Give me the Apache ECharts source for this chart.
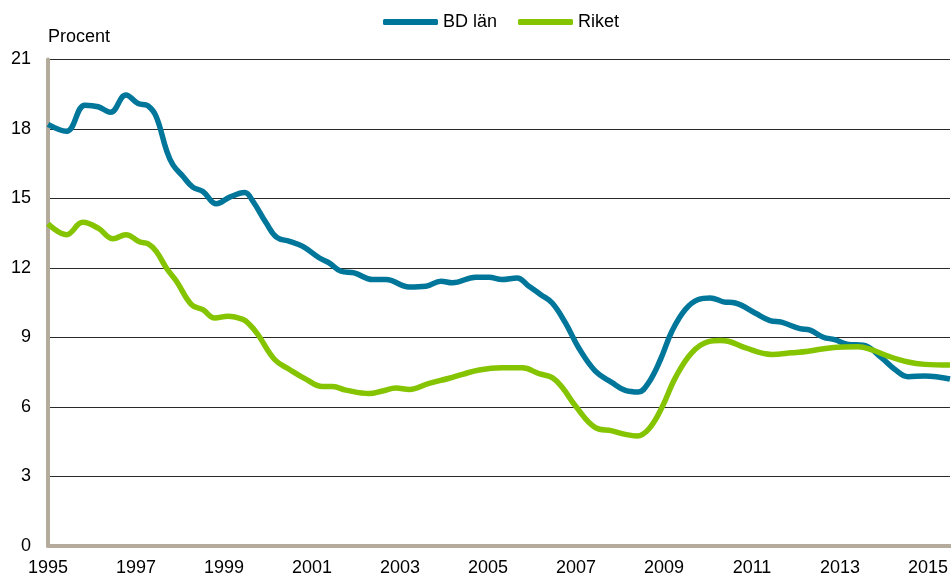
<!DOCTYPE html>
<html>
<head>
<meta charset="utf-8">
<title>BD län / Riket</title>
<script src="https://cdn.jsdelivr.net/npm/echarts@6/dist/echarts.min.js"></script>
<style>
  html, body { margin: 0; padding: 0; background: #fff; }
  #chart { width: 951px; height: 577px; }
</style>
</head>
<body>
<div id="chart"></div>
<script>
// år räknat från 1995 (0 = 1995)
const startYear = 1995;
const bdTime = [0, 0.42, 0.84, 1.14, 1.42, 1.77, 2.05, 2.27, 2.46, 2.69, 2.84, 3.07, 3.29, 3.52, 3.83,
  4.13, 4.47, 4.66, 4.96, 5.2, 5.49, 5.79, 6.17, 6.39, 6.66, 6.96, 7.38, 7.68, 8.21, 8.59, 8.93,
  9.19, 9.72, 10.02, 10.32, 10.66, 10.93, 11.2, 11.46, 11.76, 12.06, 12.44, 12.82, 13.12, 13.42,
  13.65, 13.92, 14.18, 14.48, 14.78, 15.05, 15.35, 15.62, 16.07, 16.41, 16.67, 17.09, 17.32,
  17.62, 17.88, 18.19, 18.53, 18.94, 19.25, 19.55, 19.93, 20.5];
const bdValues = [18.2, 17.9, 19.03, 18.96, 18.72, 19.47, 19.1, 19.0, 18.53, 17.1, 16.45, 15.95, 15.49, 15.3, 14.77,
  15.06, 15.26, 14.87, 13.94, 13.32, 13.15, 12.93, 12.43, 12.22, 11.86, 11.79, 11.5, 11.5, 11.18, 11.21, 11.43,
  11.36, 11.6, 11.6, 11.5, 11.57, 11.21, 10.85, 10.49, 9.63, 8.56, 7.55, 7.05, 6.72, 6.65,
  7.05, 8.05, 9.27, 10.2, 10.64, 10.71, 10.54, 10.49, 10.06, 9.73, 9.66, 9.38, 9.32,
  9.01, 8.91, 8.7, 8.67, 8.13, 7.62, 7.31, 7.34, 7.21];

const riketTime = [0, 0.42, 0.79, 1.14, 1.48, 1.77, 2.09, 2.27, 2.46, 2.69, 2.92, 3.26, 3.52, 3.79, 4.09,
  4.43, 4.58, 4.77, 5.15, 5.49, 5.87, 6.24, 6.47, 6.77, 7.3, 7.6, 7.91, 8.21, 8.66, 9.12, 9.42,
  9.8, 10.32, 10.78, 11.16, 11.46, 11.69, 11.99, 12.44, 12.82, 13.12, 13.39, 13.65, 13.95, 14.26,
  14.63, 15.01, 15.28, 15.46, 15.84, 16.45, 16.9, 17.28, 17.81, 18.41, 18.71, 19.09, 19.55,
  19.93, 20.5];
const riketValues = [13.91, 13.44, 13.97, 13.72, 13.26, 13.44, 13.12, 13.05, 12.72, 12.0, 11.43, 10.42, 10.2, 9.84, 9.92,
  9.78, 9.56, 9.13, 8.05, 7.62, 7.19, 6.88, 6.88, 6.73, 6.58, 6.69, 6.82, 6.76, 7.02, 7.24, 7.41,
  7.6, 7.69, 7.69, 7.44, 7.27, 6.84, 6.04, 5.11, 4.97, 4.82, 4.75, 5.04, 5.97, 7.27,
  8.34, 8.82, 8.87, 8.84, 8.56, 8.27, 8.34, 8.41, 8.56, 8.6, 8.48, 8.2, 7.94,
  7.84, 7.81];

const yTicks = [0, 3, 6, 9, 12, 15, 18, 21];

const font = "Arial, 'Liberation Sans', sans-serif";
const axisColor = "#b5ab9c";

function pairs(t, v) {
  return t.map((x, i) => [x, v[i]]);
}

const chart = echarts.init(document.getElementById("chart"));

const option = {
  animation: false,
  backgroundColor: "#fff",
  textStyle: { fontFamily: font },
  graphic: [
    {
      type: "text",
      left: 48,
      top: 28,
      style: { text: "Procent", font: "18px " + font, fill: "#000" },
    },
  ],
  legend: {
    left: 383,
    top: 13,
    padding: 0,
    icon: "roundRect",
    itemWidth: 55,
    itemHeight: 6,
    itemGap: 21,
    textStyle: { fontSize: 18, color: "#000", fontFamily: font },
    data: ["BD län", "Riket"],
  },
  grid: {
    left: 48,
    right: 0,
    top: 59.5,
    bottom: 30,
  },
  xAxis: {
    type: "value",
    min: 0,
    max: 20.5,
    interval: 2,
    axisLine: { show: true, onZero: false, lineStyle: { color: axisColor, width: 4 } },
    axisTick: { show: false },
    splitLine: { show: false },
    axisLabel: {
      showMaxLabel: false,
      margin: 13,
      fontSize: 18,
      color: "#000",
      fontFamily: font,
      formatter: (v) => String(startYear + v),
    },
  },
  yAxis: {
    type: "value",
    min: yTicks[0],
    max: yTicks[yTicks.length - 1],
    interval: 3,
    axisLine: { show: true, lineStyle: { color: axisColor, width: 4 } },
    axisTick: { show: false },
    splitLine: { show: true, lineStyle: { color: "#2a2a2a", width: 1 } },
    axisLabel: { margin: 17, fontSize: 18, color: "#000", fontFamily: font },
  },
  series: [
    {
      name: "BD län",
      type: "line",
      data: pairs(bdTime, bdValues),
      smooth: 0.4,
      showSymbol: false,
      lineStyle: { color: "#00779a", width: 5.5 },
      itemStyle: { color: "#00779a" },
    },
    {
      name: "Riket",
      type: "line",
      data: pairs(riketTime, riketValues),
      smooth: 0.4,
      showSymbol: false,
      lineStyle: { color: "#85c400", width: 5.5 },
      itemStyle: { color: "#85c400" },
    },
  ],
};

chart.setOption(option);
</script>
</body>
</html>
